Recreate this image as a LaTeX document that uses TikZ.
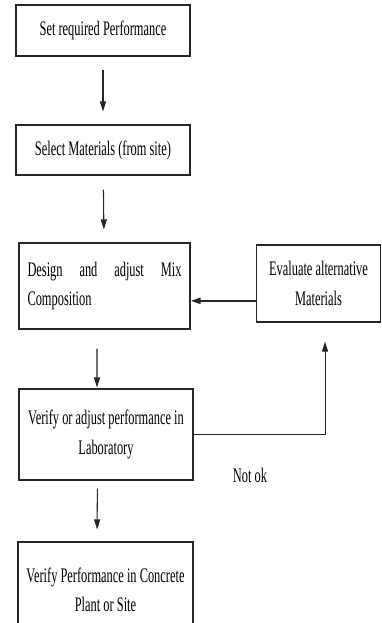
\documentclass[tikz,border=0pt]{standalone}
\usepackage{fontspec}
\setmainfont[FakeStretch=0.6]{Liberation Serif}
\usetikzlibrary{arrows.meta,positioning}
\tikzset{
	stage/.style={
		% The shape:
		rectangle,inner sep=0pt,
		% The border:
		draw=black!85,line width=0.8pt,
		% The text:
		align=center,font=\fontsize{15.5}{22}\selectfont,text=black,
	}}
\tikzset{
	flow/.style={
		% thin connector with a long filled tip
		-{Triangle[length=7.5pt,width=4.5pt]},line width=0.8pt,draw=black!85,
	}}

\begin{document}
\begin{tikzpicture}[x=0.75pt,y=-0.75pt]
	\useasboundingbox (0,0) rectangle (381,623);
	\node[stage,minimum width=130.5pt,minimum height=38.25pt] (perf) at (103,30.5) {Set required Performance};
	\node[stage,minimum width=130.5pt,minimum height=37.5pt] (select) at (103,150) {Select Materials (from site)};
	\node[stage,minimum width=128.25pt,minimum height=64.5pt,text width=115.5pt,align=left] (design) at (104.5,286)
		{Design\hfill and\hfill adjust\hfill Mix\\Composition};
	\node[stage,minimum width=93.4pt,minimum height=57.75pt] (eval) at (318.5,283.5) {Evaluate alternative\\Materials};
	\node[stage,minimum width=130.5pt,minimum height=68.25pt] (lab) at (106,434.5) {Verify or adjust performance in\\Laboratory};
	\node[stage,minimum width=131.25pt,minimum height=72pt] (plant) at (105.5,590) {Verify Performance in Concrete\\Plant or Site};
	\node[font=\fontsize{15.5}{18}\selectfont] (notok) at (250,475) {Not ok};
	% main line
	\draw[flow,shorten <=9.75pt,shorten >=9.75pt] (perf) -- (select);
	\draw[flow,shorten <=10.5pt,shorten >=9.75pt] (select) -- (design);
	\draw[flow,shorten <=14.25pt,shorten >=0.75pt] ([xshift=-5.6pt]design.south) -- ([xshift=-6.75pt]lab.north);
	\draw[flow,shorten <=6pt,shorten >=9pt] ([xshift=-6.4pt]lab.south) -- ([xshift=-6.4pt]plant.north);
	% loop back
	\draw[flow,shorten >=14.25pt] (lab.east) -| ([xshift=4.9pt]eval.south);
	\draw[flow,line width=1.6pt] ([yshift=-13pt]eval.west) -- ([yshift=-13pt]eval.west -| design.east);
\end{tikzpicture}
\end{document}
